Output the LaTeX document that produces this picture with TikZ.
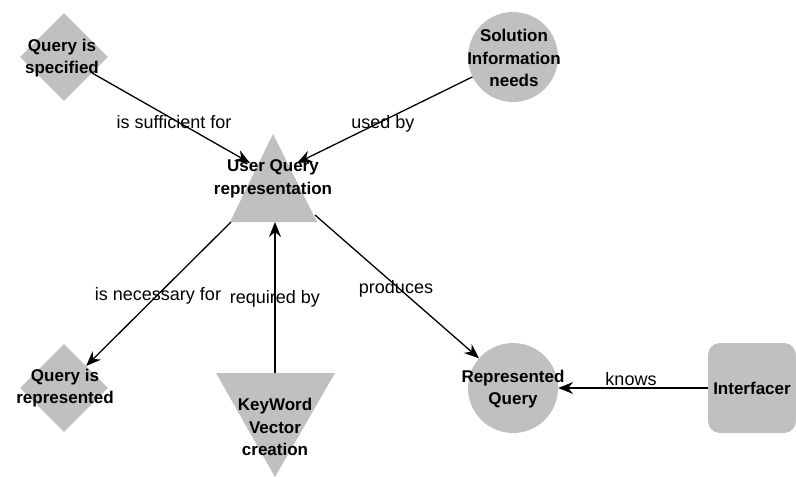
\documentclass[tikz,border=0pt]{standalone}
\usepackage{fontspec}
\setmainfont{Liberation Sans}
\usetikzlibrary{shapes.geometric,arrows.meta}
\definecolor{shapegray}{RGB}{192,192,192}
\tikzset{
  shapebox/.style={fill=shapegray,draw=none,inner sep=0pt},
  ttl/.style={font=\bfseries\fontsize{17}{22.5}\selectfont,align=center,inner sep=0pt},
  lbl/.style={font=\fontsize{18}{22}\selectfont,inner sep=0pt},
  arr/.style={draw=black,line width=1.3pt,-{Stealth[length=15pt,width=12pt,inset=5pt]}},
}
\begin{document}
\begin{tikzpicture}[x=1pt,y=-1pt]
\useasboundingbox (0,0) rectangle (796,477);
% shapes
\node[shapebox,diamond,minimum width=88pt,minimum height=88pt] (qs) at (64,57) {};
\node[shapebox,circle,minimum size=90pt] (sol) at (513,57) {};
\fill[shapegray] (273,134) -- (230,222) -- (317,222) -- cycle;
\node[shapebox,diamond,minimum width=88pt,minimum height=88pt] (qr) at (64,388) {};
\fill[shapegray] (216,373) -- (335,373) -- (275,477) -- cycle;
\node[shapebox,circle,minimum size=90pt] (rq) at (513,388) {};
\node[shapebox,rectangle,rounded corners=12pt,minimum width=88pt,minimum height=90pt,ttl] (intf) at (752,388) {Interfacer};
% triangle anchor points
\coordinate (uqL) at (250,163);
\coordinate (uqR) at (297,163);
\coordinate (uqBL) at (231,222);
\coordinate (uqB) at (275,222);
\coordinate (uqRE) at (315,215);
\coordinate (kwTop) at (275,373);
% titles
\node[ttl] (qst) at (62,58) {Query is\\specified};
\node[ttl] (solt) at (514,58) {Solution\\Information\\needs};
\node[ttl] (uqt) at (273,179) {User Query\\representation};
\node[ttl] (qrt) at (65,388) {Query is\\represented};
\node[ttl] (kwt) at (275,427) {KeyWord\\Vector\\creation};
\node[ttl] (rqt) at (513,389) {Represented\\Query};
% connectors
\draw[arr] (qs) -- (uqL);
\draw[arr] (sol) -- (uqR);
\draw[arr] (uqBL) -- (qr);
\draw[arr] (kwTop) -- (uqB);
\draw[arr] (uqRE) -- (rq);
\draw[arr] (intf) -- (rq);
% labels
\node[lbl] (l1) at (174,122) {is sufficient for};
\node[lbl] (l2) at (383,124) {used by};
\node[lbl] (l3) at (158,296) {is necessary for};
\node[lbl] (l4) at (275,299) {required by};
\node[lbl] (l5) at (396,289) {produces};
\node[lbl] (l6) at (631,379) {knows};
\end{tikzpicture}
\end{document}
